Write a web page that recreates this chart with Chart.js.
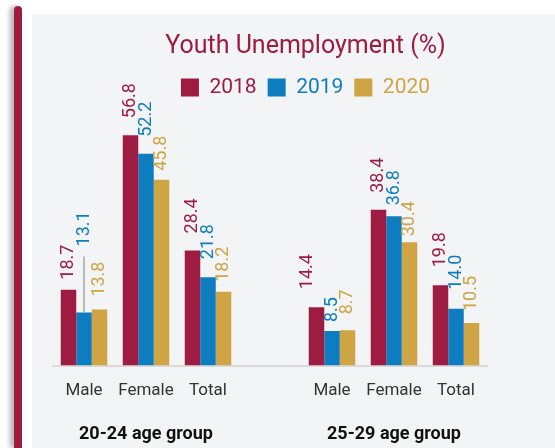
<!DOCTYPE html>
<html>
<head>
<meta charset="utf-8">
<script src="https://cdn.jsdelivr.net/npm/chart.js@4.4.0/dist/chart.umd.min.js"></script>
<style>
  html, body { margin: 0; padding: 0; background: #fff; width: 555px; height: 448px; overflow: hidden; }
  #painel { position: absolute; left: 32px; top: 14px; right: 0; bottom: 0; background: #f3f4f6; }
  #faixa { position: absolute; left: 14px; top: 6px; width: 8px; bottom: 0; background: #9e1b42;
           border-radius: 4px 4px 0 0; box-shadow: -4px 0 5px rgba(0,0,0,0.3); }
  #grafico { position: absolute; left: 0; top: 0; }
</style>
</head>
<body>
<div id="painel"></div>
<div id="faixa"></div>
<canvas id="grafico" width="560" height="448"></canvas>
<script>
// Dados do gráfico
const categorias = ['Male', 'Female', 'Total', '', 'Male', 'Female', 'Total'];
const grupos = ['20-24 age group', '25-29 age group'];
const centroGrupos = [1, 5]; // índice da categoria sob a qual fica o nome do grupo
const anos = ['2018', '2019', '2020'];
const valores2018 = [18.7, 56.8, 28.4, null, 14.4, 38.4, 19.8];
const valores2019 = [13.1, 52.2, 21.8, null, 8.5, 36.8, 14.0];
const valores2020 = [13.8, 45.8, 18.2, null, 8.7, 30.4, 10.5];

const cores = ['#9e1b42', '#0e7dbf', '#cfa444'];

// Distância (px) entre o topo da barra e o rótulo, como no original
const folgas = [
    [10, 17, 17, 0, 18, 17, 18],
    [66, 17, 18, 0, 9, 11, 19],
    [13, 9, 10, 0, 16, 6, 12]
];
const linhaGuia = { serie: 1, indice: 0 }; // rótulo 13.1 com linha cinza
const deslocX = { '0-4': -9 };

Chart.defaults.font.family = 'Roboto, sans-serif';

// Plugin para os rótulos verticais e os nomes dos grupos
const rotulosPlugin = {
    id: 'rotulos',
    afterDatasetsDraw(chart) {
        let ctx = chart.ctx;
        ctx.save();
        ctx.font = '18px Roboto, sans-serif';
        ctx.textAlign = 'left';
        ctx.textBaseline = 'middle';
        chart.data.datasets.forEach((ds, i) => {
            let meta = chart.getDatasetMeta(i);
            meta.data.forEach((barra, j) => {
                let v = ds.data[j];
                if (v === null) return;
                let folga = folgas[i][j];
                let x = barra.x + (deslocX[i + '-' + j] || 0);
                if (i === linhaGuia.serie && j === linhaGuia.indice) {
                    ctx.strokeStyle = '#a9a9a9';
                    ctx.lineWidth = 1.5;
                    ctx.beginPath();
                    ctx.moveTo(barra.x, barra.y);
                    ctx.lineTo(barra.x, barra.y - folga + 10);
                    ctx.stroke();
                }
                ctx.save();
                ctx.translate(x, barra.y - folga);
                ctx.rotate(-Math.PI / 2);
                ctx.fillStyle = cores[i];
                ctx.fillText(v.toFixed(1), 0, 0);
                ctx.restore();
            });
        });

        // nomes dos grupos de idade
        let escalaX = chart.scales.x;
        ctx.font = 'bold 18px Roboto, sans-serif';
        ctx.textAlign = 'center';
        ctx.fillStyle = '#111';
        grupos.forEach((g, k) => {
            ctx.fillText(g, escalaX.getPixelForValue(centroGrupos[k]), 434);
        });
        ctx.restore();
    }
};

function criarGrafico() {
    let ctx = document.getElementById('grafico').getContext('2d');
    let series = [valores2018, valores2019, valores2020];

    new Chart(ctx, {
        type: 'bar',
        data: {
            labels: categorias,
            datasets: anos.map((ano, i) => ({
                label: ano,
                data: series[i],
                backgroundColor: cores[i],
                borderWidth: 0,
                categoryPercentage: 0.75,
                barPercentage: 1
            }))
        },
        options: {
            responsive: false,
            animation: false,
            layout: { padding: { top: 14, left: 53, right: 2, bottom: 32 } },
            scales: {
                x: {
                    grid: { display: false, drawTicks: false },
                    border: { display: true, color: '#dadada', width: 2 },
                    ticks: { color: '#333', font: { size: 17 }, padding: 15, maxRotation: 0 }
                },
                y: {
                    position: 'right',
                    beginAtZero: true,
                    max: 63.5,
                    grid: { display: false },
                    border: { display: false },
                    ticks: { display: false },
                    // espaço vazio à direita, para o título ficar deslocado como no original
                    afterFit: (escala) => { escala.width = 71; }
                }
            },
            plugins: {
                title: {
                    display: true,
                    text: 'Youth Unemployment (%)',
                    color: '#9e1b42',
                    font: { size: 25, weight: 'normal' },
                    padding: { top: 18, bottom: 4 }
                },
                legend: {
                    display: true,
                    labels: {
                        boxWidth: 18,
                        boxHeight: 18,
                        padding: 11,
                        font: { size: 21 },
                        generateLabels: (chart) => {
                            let itens = Chart.defaults.plugins.legend.labels.generateLabels(chart);
                            itens.forEach((item, i) => {
                                item.fontColor = cores[i];
                                item.lineWidth = 0;
                            });
                            return itens;
                        }
                    }
                },
                tooltip: { enabled: false }
            }
        },
        plugins: [rotulosPlugin]
    });
}

document.addEventListener('DOMContentLoaded', (event) => {
    criarGrafico();
});
</script>
</body>
</html>
